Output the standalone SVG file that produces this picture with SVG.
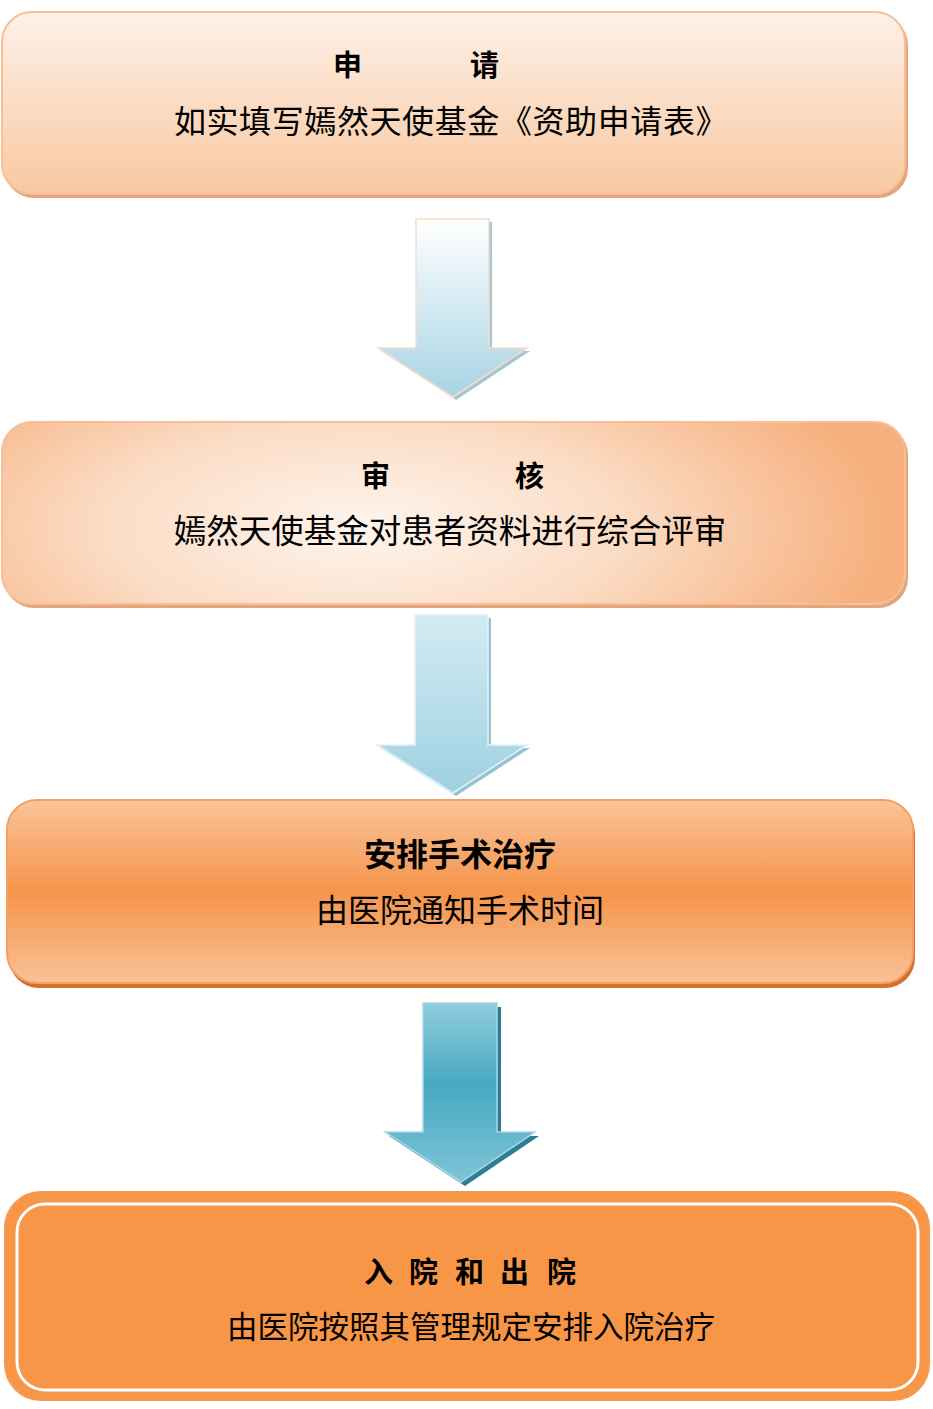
<svg xmlns="http://www.w3.org/2000/svg" width="933" height="1409" viewBox="0 0 933 1409">
<defs>
<style>
.t{font-family:"Noto Sans CJK SC","Noto Sans",sans-serif;fill:#000;}
.h{font-weight:bold;font-size:29px;}
.s{font-size:32px;}
</style>
<linearGradient id="g1" x1="0" y1="0" x2="0" y2="1">
<stop offset="0" stop-color="#fdf1e8"/>
<stop offset="1" stop-color="#f9c8a1"/>
</linearGradient>
<radialGradient id="g2" cx="0.4" cy="0.58" r="0.58" gradientTransform="translate(0.4 0.58) scale(1 2.0) translate(-0.4 -0.58)">
<stop offset="0" stop-color="#fef5ee"/>
<stop offset="0.5" stop-color="#fbdcc4"/>
<stop offset="1" stop-color="#f6b07e"/>
</radialGradient>
<linearGradient id="g3" x1="0" y1="0" x2="0" y2="1">
<stop offset="0" stop-color="#f9c49a"/>
<stop offset="0.5" stop-color="#f5944a"/>
<stop offset="1" stop-color="#f9c296"/>
</linearGradient>
<linearGradient id="a1" x1="0" y1="0" x2="0" y2="1">
<stop offset="0" stop-color="#ffffff"/>
<stop offset="1" stop-color="#a6d3e3"/>
</linearGradient>
<linearGradient id="a2" x1="0" y1="0" x2="0" y2="1">
<stop offset="0" stop-color="#d3ebf3"/>
<stop offset="1" stop-color="#9fd0e1"/>
</linearGradient>
<linearGradient id="a3" x1="0" y1="0" x2="0" y2="1">
<stop offset="0" stop-color="#90cddd"/>
<stop offset="0.45" stop-color="#48a8c3"/>
<stop offset="1" stop-color="#7ec4d7"/>
</linearGradient>
</defs>

<g id="connectors">
<g id="arrow1">
<polygon points="419,222 492,222 492,351 530,351 456,400 381,351 419,351" fill="#a2c7d3"/>
<polygon points="416,219 489,219 489,348 527,348 453,397 378,348 416,348" fill="url(#a1)" stroke="#f9dcc6" stroke-width="1.5"/>
</g>
<g id="arrow2">
<polygon points="418,618 491,618 491,748 530,748 456,796 380,748 418,748" fill="#93c3d2"/>
<polygon points="415,615 488,615 488,745 527,745 453,793 377,745 415,745" fill="url(#a2)" stroke="#e4f2f7" stroke-width="1.5"/>
</g>
<g id="arrow3">
<polygon points="427,1007 501,1007 501,1136 539,1136 465,1186 389,1136 427,1136" fill="#2d7d93"/>
<polygon points="423,1003 497,1003 497,1132 535,1132 461,1182 385,1132 423,1132" fill="url(#a3)" stroke="#a9d8e6" stroke-width="1.5"/>
</g>
</g>

<g id="node1">
<rect x="4" y="15" width="904" height="183" rx="30" fill="#e3a57c"/>
<rect x="2" y="12" width="903" height="182" rx="30" fill="url(#g1)" stroke="#f6bf96" stroke-width="2"/>
<text class="t h" x="333 470" y="76">申请</text>
<text class="t s" x="451" y="133" text-anchor="middle" letter-spacing="0.6">如实填写嫣然天使基金《资助申请表》</text>
</g>

<g id="node2">
<rect x="4" y="425" width="904" height="183" rx="30" fill="#e3a57c"/>
<rect x="2" y="422" width="903" height="182" rx="30" fill="url(#g2)" stroke="#f6bf96" stroke-width="2"/>
<text class="t h" x="361 515" y="487">审核</text>
<text class="t s" x="450" y="543" text-anchor="middle" style="font-size:32.5px">嫣然天使基金对患者资料进行综合评审</text>
</g>

<g id="node3">
<rect x="9" y="804" width="906" height="184" rx="30" fill="#d2712d"/>
<rect x="7" y="800" width="906" height="183" rx="30" fill="url(#g3)" stroke="#f4a063" stroke-width="2"/>
<text class="t h" x="460" y="866" text-anchor="middle" style="font-size:32px">安排手术治疗</text>
<text class="t s" x="460" y="922" text-anchor="middle">由医院通知手术时间</text>
</g>

<g id="node4">
<rect x="5" y="1192" width="924" height="208" rx="36" fill="#f79646" stroke="#f39a55" stroke-width="2"/>
<rect x="17" y="1204" width="901" height="186" rx="28" fill="none" stroke="#ffffff" stroke-width="3"/>
<text class="t h" x="364 409 455 500 547" y="1283">入院和出院</text>
<text class="t s" x="471" y="1338" text-anchor="middle" style="font-size:30.5px">由医院按照其管理规定安排入院治疗</text>
</g>
</svg>
